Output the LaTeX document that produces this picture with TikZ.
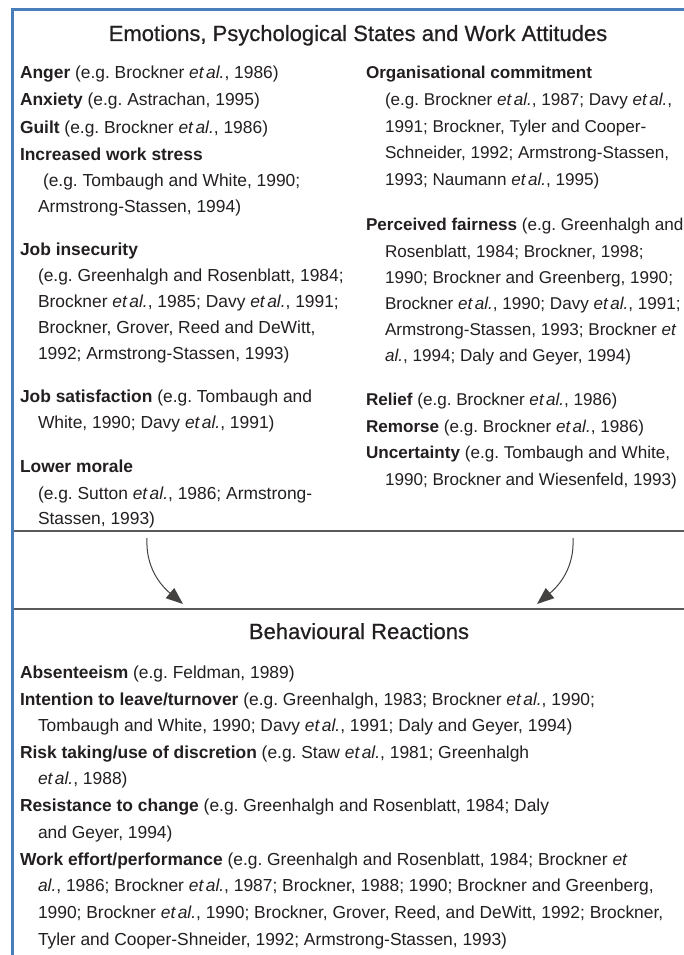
\documentclass[tikz,border=0pt]{standalone}
\usepackage{fontspec}
\setmainfont{Liberation Sans}
\newfontfamily\headfont[FakeBold=0.6]{Liberation Sans}
\usetikzlibrary{arrows.meta}
\definecolor{ink}{HTML}{231F20}
\definecolor{frameblue}{HTML}{4A7EBB}
\definecolor{rulegray}{HTML}{5A5A5A}
% tightly set italic "et al."
\newcommand{\etal}{\textit{et\hspace{0.14em}al.}}
\newcommand{\bodysize}{\fontsize{17.4}{20}\selectfont\frenchspacing}
\newcommand{\rightsize}{\fontsize{17.1}{20}\selectfont\frenchspacing}
\newcommand{\headsize}{\headfont\fontsize{22}{24}\selectfont}
\begin{document}
\frenchspacing
\begin{tikzpicture}[x=1pt,y=-1pt,
  txt/.style={anchor=base west,inner sep=0pt,outer sep=0pt,text=ink,font=\bodysize},
  rtxt/.style={txt,font=\rightsize},
  heading/.style={anchor=base,inner sep=0pt,outer sep=0pt,text=ink,font=\headsize},
  frameline/.style={draw=frameblue,line width=2.2pt},
  divider/.style={draw=rulegray,line width=2pt},
  flow/.style={draw=ink!85,line width=1pt,-{Triangle[length=17pt,width=13pt]}}]
\useasboundingbox (0,0) rectangle (684,955);
\fill[white] (0,0) rectangle (684,955);

% outer frame (left and top) and the two section dividers
\draw[frameline] (12.5,955) -- (12.5,9.5) -- (684,9.5);
\draw[divider] (13.6,531) -- (684,531);
\draw[divider] (13.6,609) -- (684,609);

% upper section
\node[heading] (t1) at (358,41) {Emotions, Psychological States and Work Attitudes};

\node[txt] (l1)  at (20,79)    {\textbf{Anger} (e.g. Brockner \etal, 1986)};
\node[txt] (l2)  at (20,106)   {\textbf{Anxiety} (e.g. Astrachan, 1995)};
\node[txt] (l3)  at (20,133)   {\textbf{Guilt} (e.g. Brockner \etal, 1986)};
\node[txt] (l4)  at (20,160)   {\textbf{Increased work stress}};
\node[txt] (l5)  at (43,186.5) {(e.g. Tombaugh and White, 1990;};
\node[txt] (l6)  at (38,212)   {Armstrong-Stassen, 1994)};
\node[txt] (l7)  at (20,255)   {\textbf{Job insecurity}};
\node[txt] (l8)  at (38,281)   {(e.g. Greenhalgh and Rosenblatt, 1984;};
\node[txt] (l9)  at (38,307)   {Brockner \etal, 1985; Davy \etal, 1991;};
\node[txt] (l10) at (38,333)   {Brockner, Grover, Reed and DeWitt,};
\node[txt] (l11) at (38,359)   {1992; Armstrong-Stassen, 1993)};
\node[txt] (l12) at (20,402)   {\textbf{Job satisfaction} (e.g. Tombaugh and};
\node[txt] (l13) at (38,428.5) {White, 1990; Davy \etal, 1991)};
\node[txt] (l14) at (20,472)   {\textbf{Lower morale}};
\node[txt] (l15) at (38,499)   {(e.g. Sutton \etal, 1986; Armstrong-};
\node[txt] (l16) at (38,524.5) {Stassen, 1993)};

\node[rtxt] (r1)  at (366,79)    {\textbf{Organisational commitment}};
\node[rtxt] (r2)  at (385,105.5) {(e.g. Brockner \etal, 1987; Davy \etal,};
\node[rtxt] (r3)  at (385,132)   {1991; Brockner, Tyler and Cooper-};
\node[rtxt] (r4)  at (385,158.5) {Schneider, 1992; Armstrong-Stassen,};
\node[rtxt] (r5)  at (385,185)   {1993; Naumann \etal, 1995)};
\node[rtxt] (r6)  at (366,230.5) {\textbf{Perceived fairness} (e.g. Greenhalgh and};
\node[rtxt] (r7)  at (385,257)   {Rosenblatt, 1984; Brockner, 1998;};
\node[rtxt] (r8)  at (385,283)   {1990; Brockner and Greenberg, 1990;};
\node[rtxt] (r9)  at (385,309.5) {Brockner \etal, 1990; Davy \etal, 1991;};
\node[rtxt] (r10) at (385,335.5) {Armstrong-Stassen, 1993; Brockner \textit{et}};
\node[rtxt] (r11) at (385,361.5) {\textit{al.}, 1994; Daly and Geyer, 1994)};
\node[rtxt] (r12) at (366,405.5) {\textbf{Relief} (e.g. Brockner \etal, 1986)};
\node[rtxt] (r13) at (366,432)   {\textbf{Remorse} (e.g. Brockner \etal, 1986)};
\node[rtxt] (r14) at (366,458.5) {\textbf{Uncertainty} (e.g. Tombaugh and White,};
\node[rtxt] (r15) at (385,485)   {1990; Brockner and Wiesenfeld, 1993)};

% links from the upper section to the lower one
\coordinate (la) at (147,538);
\coordinate (lb) at (183,604);
\coordinate (ra) at (573,538);
\coordinate (rb) at (537,604);
\draw[flow] (la) to[out=-93,in=140] (lb);
\draw[flow] (ra) to[out=-87,in=40] (rb);

% lower section
\node[heading] (t2) at (359,639) {Behavioural Reactions};

\node[txt] (b1)  at (20,678)   {\textbf{Absenteeism} (e.g. Feldman, 1989)};
\node[txt] (b2)  at (20,705)   {\textbf{Intention to leave/turnover} (e.g. Greenhalgh, 1983; Brockner \etal, 1990;};
\node[txt] (b3)  at (38,731.5) {Tombaugh and White, 1990; Davy \etal, 1991; Daly and Geyer, 1994)};
\node[txt] (b4)  at (20,758)   {\textbf{Risk taking/use of discretion} (e.g. Staw \etal, 1981; Greenhalgh};
\node[txt] (b5)  at (38,784.5) {\etal, 1988)};
\node[txt] (b6)  at (20,811.5) {\textbf{Resistance to change} (e.g. Greenhalgh and Rosenblatt, 1984; Daly};
\node[txt] (b7)  at (38,838)   {and Geyer, 1994)};
\node[txt] (b8)  at (20,865)   {\textbf{Work effort/performance} (e.g. Greenhalgh and Rosenblatt, 1984; Brockner \textit{et}};
\node[txt] (b9)  at (38,891.5) {\textit{al.}, 1986; Brockner \etal, 1987; Brockner, 1988; 1990; Brockner and Greenberg,};
\node[txt] (b10) at (38,918)   {1990; Brockner \etal, 1990; Brockner, Grover, Reed, and DeWitt, 1992; Brockner,};
\node[txt] (b11) at (38,945)   {Tyler and Cooper-Shneider, 1992; Armstrong-Stassen, 1993)};
\end{tikzpicture}
\end{document}
